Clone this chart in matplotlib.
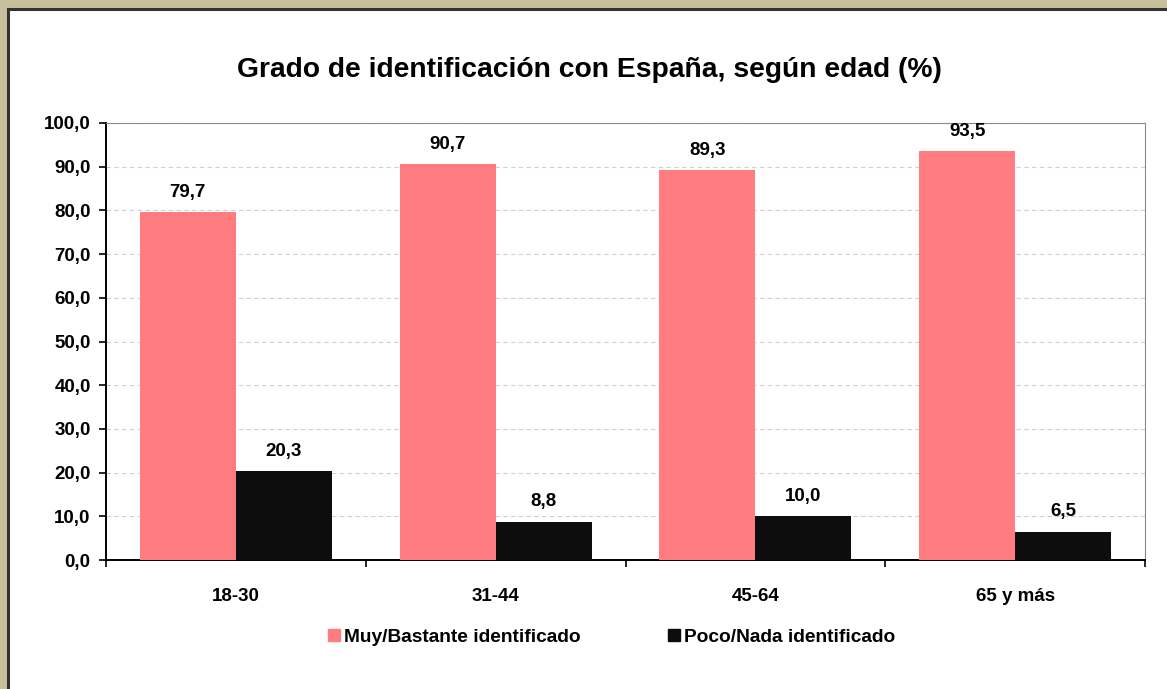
import numpy as np
import matplotlib
matplotlib.use("Agg")
import matplotlib.pyplot as plt
from matplotlib.patches import Rectangle
from matplotlib.lines import Line2D

plt.rcParams["font.family"] = ["Liberation Sans", "DejaVu Sans"]
plt.rcParams["font.weight"] = "bold"

groups = ["18-30", "31-44", "45-64", "65 y más"]
muy_bastante = [79.7, 90.7, 89.3, 93.5]
poco_nada = [20.3, 8.8, 10.0, 6.5]
series_names = ["Muy/Bastante identificado", "Poco/Nada identificado"]
yticks = np.arange(0, 101, 10)

PINK = "#ff7c80"
BLACK = "#0d0d0d"


def fmt(v):
    return f"{v:.1f}".replace(".", ",")


fig = plt.figure(figsize=(11.67, 6.89), dpi=100)
fig.patch.set_facecolor("#c6c09c")

# white panel with dark edge inside the khaki frame
panel = Rectangle((8 / 1167, -0.01), 1.0, 1 - 9 / 689 + 0.01,
                  transform=fig.transFigure, facecolor="white",
                  edgecolor="#333333", linewidth=2.2, zorder=-5)
fig.patches.append(panel)

ax = fig.add_axes([106 / 1167, 1 - 560 / 689, (1145 - 106) / 1167, (560 - 123) / 689])
ax.set_facecolor("white")

x = np.arange(len(groups))
width = 0.37
b1 = ax.bar(x - width / 2, muy_bastante, width, color=PINK, zorder=3)
b2 = ax.bar(x + width / 2, poco_nada, width, color=BLACK, zorder=3)

for bars, vals in [(b1, muy_bastante), (b2, poco_nada)]:
    for bar, v in zip(bars, vals):
        ax.annotate(fmt(v), (bar.get_x() + bar.get_width() / 2, v),
                    xytext=(0, 8), textcoords="offset points",
                    ha="center", va="bottom", fontsize=13.5, fontweight="bold")

ax.set_xlim(-0.5, len(groups) - 0.5)
ax.set_ylim(0, 100)
ax.set_yticks(yticks)
ax.set_yticklabels([fmt(v) for v in yticks], fontsize=13.5, fontweight="bold")
ax.yaxis.grid(True, color="#d0d0d0", linestyle=(0, (4, 3)), linewidth=0.8, zorder=0)

# category labels centred, tick marks between categories
ax.set_xticks(x)
ax.set_xticklabels(groups, fontsize=13.5, fontweight="bold")
ax.tick_params(axis="x", length=0, pad=20)
ax.set_xticks(np.arange(-0.5, len(groups), 1), minor=True)
ax.tick_params(axis="x", which="minor", length=5, width=1.2, direction="out", color="black")
ax.tick_params(axis="y", length=5, width=1.2, direction="out", pad=6)

ax.spines["left"].set_color("black")
ax.spines["left"].set_linewidth(1.4)
ax.spines["bottom"].set_color("black")
ax.spines["bottom"].set_linewidth(1.4)
ax.spines["top"].set_color("#8a8a8a")
ax.spines["top"].set_linewidth(0.8)
ax.spines["right"].set_color("#8a8a8a")
ax.spines["right"].set_linewidth(0.8)

fig.text(0.505, 1 - 70 / 689, "Grado de identificación con España, según edad (%)",
         ha="center", va="center", fontsize=20.3, fontweight="bold")

handles = [
    Line2D([], [], marker="s", linestyle="none", markersize=8, color=PINK),
    Line2D([], [], marker="s", linestyle="none", markersize=8, color=BLACK),
]
leg = fig.legend(handles, series_names, loc="center", ncol=2,
                 bbox_to_anchor=(611 / 1167, 1 - 637 / 689), frameon=False,
                 fontsize=13.8, handletextpad=0.1, columnspacing=4.5,
                 handlelength=0.8)
for t in leg.get_texts():
    t.set_fontweight("bold")

fig.savefig("out.png", dpi=100)
